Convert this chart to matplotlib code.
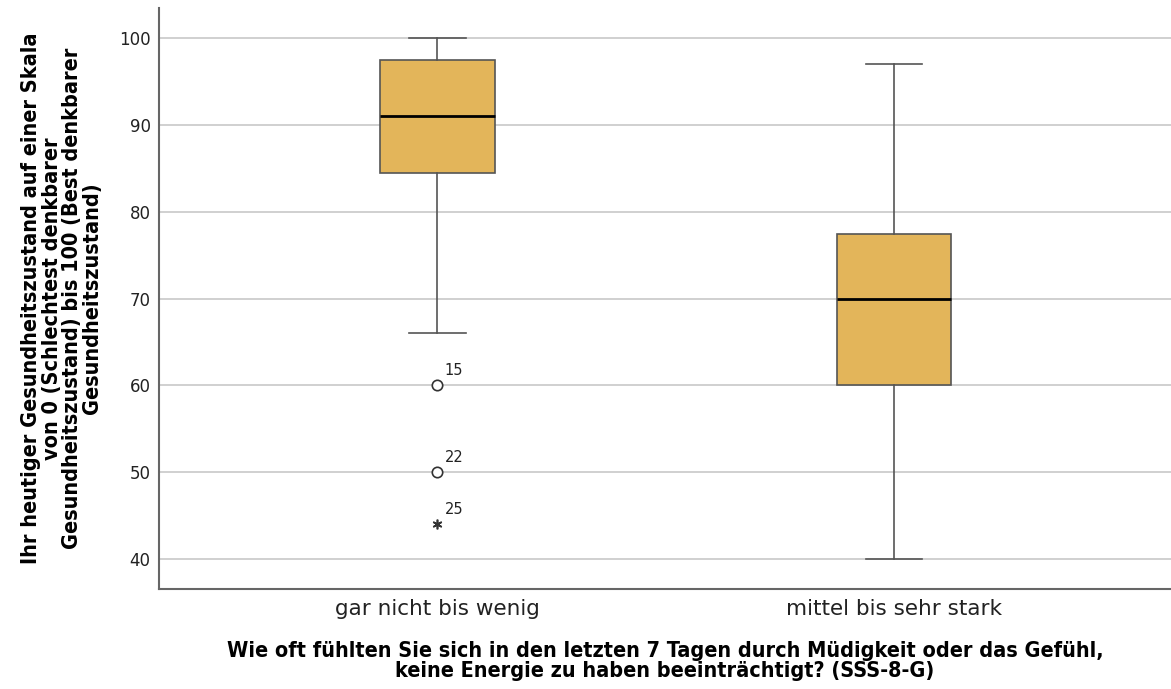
import matplotlib.pyplot as plt

# Five-number summaries per group (whisker low, Q1, median, Q3, whisker high)
groups = ["gar nicht bis wenig", "mittel bis sehr stark"]
whislo = [66, 40]
q1 = [84.5, 60]
med = [91, 70]
q3 = [97.5, 77.5]
whishi = [100, 97]

# Outliers of the first group: circles (mild) and star (extreme), with case numbers
mild_vals = [60, 50]
mild_ids = ["15", "22"]
extreme_vals = [44]
extreme_ids = ["25"]

yticks = [40, 50, 60, 70, 80, 90, 100]

stats = []
for i, name in enumerate(groups):
    stats.append({"label": name, "whislo": whislo[i], "q1": q1[i], "med": med[i],
                  "q3": q3[i], "whishi": whishi[i], "fliers": []})

fig = plt.figure(figsize=(11.71, 6.89), dpi=100)
ax = fig.add_axes([0.1358, 0.1451, 0.8642, 0.8432])

ax.bxp(stats, positions=[1, 2], widths=0.25, patch_artist=True, showfliers=False,
       boxprops=dict(facecolor="#e3b55a", edgecolor="#555555", linewidth=1.2),
       medianprops=dict(color="black", linewidth=2),
       whiskerprops=dict(color="#555555", linewidth=1.2),
       capprops=dict(color="#555555", linewidth=1.2),
       capwidths=0.123)

# outliers
ax.plot([1] * len(mild_vals), mild_vals, linestyle="none", marker="o", markersize=7.5,
        markerfacecolor="white", markeredgecolor="#333333", markeredgewidth=1.2, zorder=4)
ax.plot([1] * len(extreme_vals), extreme_vals, linestyle="none", marker=(6, 2, 0),
        markersize=7, color="#333333", markeredgewidth=1.2, zorder=4)
for v, s in zip(mild_vals + extreme_vals, mild_ids + extreme_ids):
    ax.annotate(s, (1, v), xytext=(5, 5), textcoords="offset points", fontsize=10.5,
                color="#222222", ha="left", va="bottom")

ax.set_xlim(0.39, 2.607)
ax.set_ylim(36.5, 103.5)
ax.set_yticks(yticks)
ax.set_xticks([1, 2])
ax.set_xticklabels(groups, fontsize=15.5, color="#222222")
ax.tick_params(axis="y", labelsize=12, labelcolor="#222222", length=0, pad=6)
ax.tick_params(axis="x", length=0, pad=7)

ax.yaxis.grid(True, color="#c8c8c8", linewidth=1.2)
ax.set_axisbelow(True)
for side in ["top", "right"]:
    ax.spines[side].set_visible(False)
for side in ["left", "bottom"]:
    ax.spines[side].set_color("#666666")
    ax.spines[side].set_linewidth(1.5)

ax.set_ylabel("Ihr heutiger Gesundheitszustand auf einer Skala\nvon 0 (Schlechtest denkbarer\n"
              "Gesundheitszustand) bis 100 (Best denkbarer\nGesundheitszustand)",
              fontweight="bold", fontsize=15.5, fontstretch="condensed", linespacing=1.02,
              labelpad=12)
ax.set_xlabel("Wie oft fühlten Sie sich in den letzten 7 Tagen durch Müdigkeit oder das Gefühl,\n"
              "keine Energie zu haben beeinträchtigt? (SSS-8-G)",
              fontweight="bold", fontsize=15.5, fontstretch="condensed", linespacing=1.02,
              labelpad=16)

fig.savefig("out.png", dpi=100)
